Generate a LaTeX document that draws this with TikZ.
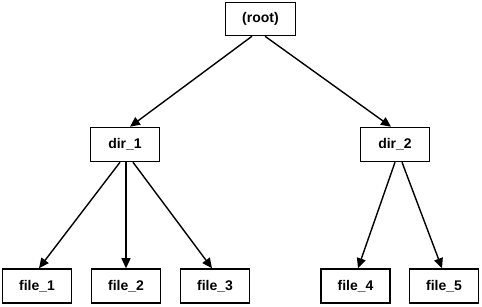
\documentclass[tikz,border=0pt]{standalone}
\usepackage{fontspec}
\setmainfont{Liberation Sans}
\usetikzlibrary{arrows.meta}
\begin{document}
\begin{tikzpicture}[x=1pt,y=-1pt,
  treebox/.style={draw=black, line width=1.5pt, fill=white, minimum width=69pt, minimum height=34pt, inner sep=0pt, font=\fontsize{14}{16}\selectfont\bfseries},
  link/.style={line width=1.4pt, -{Triangle[length=10pt,width=9pt]}}]
\useasboundingbox[fill=white] (0,0) rectangle (482,307);
\node[treebox, minimum width=70pt, minimum height=33pt] (root) at (260.5,19) {(root)};
\node[treebox] (dir1) at (125,144.5) {dir\_1};
\node[treebox] (dir2) at (395,144.5) {dir\_2};
\node[treebox] (f1) at (37,286) {file\_1};
\node[treebox] (f2) at (126,286) {file\_2};
\node[treebox] (f3) at (215,286) {file\_3};
\node[treebox] (f4) at (355.5,286) {file\_4};
\node[treebox] (f5) at (444,286) {file\_5};
\draw[link] ([xshift=-8.5pt]root.south) -- ([xshift=5pt]dir1.north);
\draw[link] ([xshift=4.5pt]root.south) -- ([xshift=-4pt]dir2.north);
\draw[link] ([xshift=-5pt]dir1.south) -- ([xshift=2pt]f1.north);
\draw[link] ([xshift=1pt]dir1.south) -- (f2.north);
\draw[link] ([xshift=8pt]dir1.south) -- ([xshift=-3pt]f3.north);
\draw[link] (dir2.south) -- ([xshift=2.5pt]f4.north);
\draw[link] ([xshift=7pt]dir2.south) -- ([xshift=-2pt]f5.north);
\end{tikzpicture}
\end{document}
